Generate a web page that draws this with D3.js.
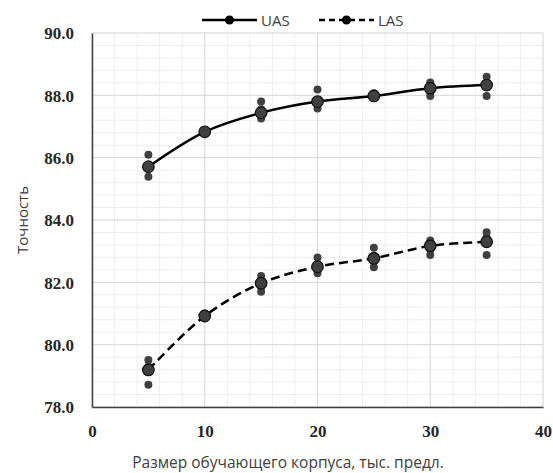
<!DOCTYPE html>
<html><head><meta charset="utf-8">
<script src="https://cdn.jsdelivr.net/npm/d3@7"></script>
<style>body{margin:0;background:#fff}svg{display:block}</style>
</head><body>
<svg id="c" width="553" height="473"></svg>
<script>
const sizes = [5, 10, 15, 20, 25, 30, 35];
const uasMean = [85.71, 86.83, 87.44, 87.80, 87.98, 88.23, 88.33];
const lasMean = [79.19, 80.92, 81.97, 82.50, 82.77, 83.17, 83.30];
const uasRuns = [
  [86.09, 85.39, 85.75],
  [86.86, 86.80, 86.84],
  [87.80, 87.26, 87.55, 87.40],
  [88.19, 87.58, 87.70, 87.85],
  [88.07, 87.92, 88.00],
  [88.41, 87.98, 88.35, 88.10],
  [88.60, 87.98, 88.40]
];
const lasRuns = [
  [79.51, 78.71, 79.30],
  [80.86, 80.95, 81.00],
  [82.20, 81.70, 82.05, 81.85],
  [82.80, 82.29, 82.60, 82.40],
  [83.11, 82.48, 82.85, 82.65],
  [83.34, 82.88, 83.25, 83.05],
  [83.61, 82.88, 83.45]
];
const xTicks = [0, 10, 20, 30, 40];
const yTicks = [78, 80, 82, 84, 86, 88, 90];
const xTitle = "Размер обучающего корпуса, тыс. предл.";
const yTitle = "Точность";

const svg = d3.select("#c");
const L = 92, R = 543, T = 33, B = 407;
const x = d3.scaleLinear().domain([0, 40]).range([L, R]);
const y = d3.scaleLinear().domain([78, 90]).range([B, T]);

// minor grid
const g = svg.append("g");
g.selectAll("line.mx").data(d3.range(0, 40.01, 2)).join("line")
  .attr("x1", d => x(d)).attr("x2", d => x(d)).attr("y1", T).attr("y2", B)
  .attr("stroke", "#eeeeee").attr("stroke-width", 1);
g.selectAll("line.my").data(d3.range(78, 90.01, 0.4)).join("line")
  .attr("y1", d => y(d)).attr("y2", d => y(d)).attr("x1", L).attr("x2", R)
  .attr("stroke", "#eeeeee").attr("stroke-width", 1);
// major grid
g.selectAll("line.Mx").data(xTicks).join("line")
  .attr("x1", d => x(d)).attr("x2", d => x(d)).attr("y1", T).attr("y2", B)
  .attr("stroke", "#d9d9d9").attr("stroke-width", 1);
g.selectAll("line.My").data(yTicks).join("line")
  .attr("y1", d => y(d)).attr("y2", d => y(d)).attr("x1", L).attr("x2", R)
  .attr("stroke", "#d9d9d9").attr("stroke-width", 1);

// axes
const ax = svg.append("g").attr("transform", `translate(0,${B})`)
  .call(d3.axisBottom(x).tickValues(xTicks).tickSize(0).tickPadding(18));
const ay = svg.append("g").attr("transform", `translate(${L},0)`)
  .call(d3.axisLeft(y).tickValues(yTicks).tickSize(0).tickPadding(18).tickFormat(d3.format(".1f")));
[ax, ay].forEach(a => {
  a.select(".domain").attr("stroke", "#404040").attr("stroke-width", 1.5);
  a.selectAll("text").attr("font-family", "'Liberation Serif', serif").attr("font-weight", "bold")
    .attr("font-size", 17).attr("fill", "#262626");
});
ay.selectAll("text").attr("dy", "0.35em");

// titles
svg.append("text").attr("x", 288).attr("y", 468).attr("text-anchor", "middle")
  .attr("font-family", "'Open Sans', sans-serif").attr("font-size", 15.5).attr("fill", "#404040").text(xTitle);
svg.append("text").attr("transform", `translate(28,220) rotate(-90)`).attr("text-anchor", "middle")
  .attr("font-family", "'Open Sans', sans-serif").attr("font-size", 15).attr("fill", "#404040").text(yTitle);

// lines
const line = d3.line().x((d, i) => x(sizes[i])).y(d => y(d)).curve(d3.curveCatmullRom.alpha(0.5));
function series(runs, mean, dash) {
  const s = svg.append("g");
  runs.forEach((r, i) => {
    s.selectAll(null).data(r).join("circle")
      .attr("cx", x(sizes[i])).attr("cy", d => y(d)).attr("r", 4).attr("fill", "#404040");
  });
  s.append("path").attr("d", line(mean)).attr("fill", "none").attr("stroke", "#000")
    .attr("stroke-width", 2.5).attr("stroke-dasharray", dash ? "9,5" : null);
  s.selectAll(null).data(mean).join("circle")
    .attr("cx", (d, i) => x(sizes[i])).attr("cy", d => y(d)).attr("r", 5.8)
    .attr("fill", "#404040").attr("stroke", "#111").attr("stroke-width", 1.2);
}
series(uasRuns, uasMean, false);
series(lasRuns, lasMean, true);

// legend
const leg = [{name: "UAS", x0: 202, dash: null}, {name: "LAS", x0: 319, dash: "6,4"}];
leg.forEach(l => {
  svg.append("line").attr("x1", l.x0).attr("x2", l.x0 + 55).attr("y1", 20).attr("y2", 20)
    .attr("stroke", "#000").attr("stroke-width", 2.5).attr("stroke-dasharray", l.dash);
  svg.append("circle").attr("cx", l.x0 + 27.5).attr("cy", 20).attr("r", 4.5).attr("fill", "#000");
  svg.append("text").attr("x", l.x0 + 59).attr("y", 25.5).attr("font-family", "'Open Sans', sans-serif")
    .attr("font-size", 15).attr("fill", "#404040").text(l.name);
});
</script>
</body></html>
